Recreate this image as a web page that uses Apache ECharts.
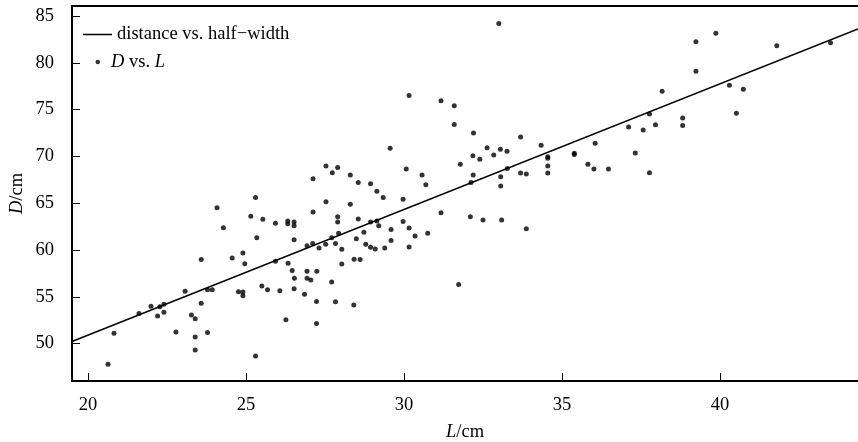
<!DOCTYPE html>
<html>
<head>
<meta charset="utf-8">
<script src="https://cdn.jsdelivr.net/npm/echarts@6/dist/echarts.min.js"></script>
<style>
  html, body { margin: 0; padding: 0; background: #fff; }
  #chart { width: 858px; height: 442px; }
</style>
</head>
<body>
<div id="chart"></div>
<script>
// L (cm) and D (cm)
var lengthL = [
  20.63, 20.82, 21.61, 21.99, 22.2, 22.27, 22.4, 22.4, 22.78, 23.07,
  23.27, 23.39, 23.39, 23.39, 23.58, 23.58, 23.78, 23.78, 23.93, 24.28,
  24.56, 24.76, 24.9, 24.9, 24.9, 24.96, 25.3, 25.34, 25.5, 25.68,
  25.53, 25.93, 25.93, 26.07, 26.26, 26.32, 26.32, 26.33, 26.46, 26.52,
  26.52, 26.52, 26.53, 26.52, 26.85, 26.93, 26.93, 26.93, 27.05, 27.11,
  27.23, 27.23, 27.24, 27.31, 24.08, 25.3, 25.15, 27.53, 27.9, 27.73,
  27.12, 28.3, 28.55, 28.94, 29.14, 29.34, 27.53, 28.3, 27.12, 27.9,
  27.9, 28.55, 28.94, 29.14, 29.2, 29.59, 29.59, 28.73, 27.93, 27.71,
  28.49, 27.52, 27.83, 28.03, 28.79, 28.94, 29.09, 29.39, 28.03, 28.42,
  28.61, 27.71, 27.83, 28.41, 33.0, 30.16, 31.17, 31.59, 31.59, 32.2,
  33.69, 34.34, 32.63, 33.05, 32.18, 32.4, 32.84, 33.26, 31.78, 30.07,
  30.57, 30.69, 32.19, 32.12, 33.06, 33.06, 33.27, 33.69, 33.87, 34.55,
  34.55, 34.55, 34.55, 29.97, 31.17, 29.97, 30.16, 30.35, 30.75, 30.16,
  32.1, 32.5, 33.09, 33.87, 31.73, 29.56, 39.87, 39.24, 41.8, 43.5,
  39.24, 38.17, 40.3, 40.74, 40.52, 37.77, 38.82, 38.82, 37.96, 37.11,
  37.57, 36.05, 35.39, 35.39, 37.32, 35.82, 36.01, 36.47, 37.77
];
var distD = [
  47.8, 51.1, 53.2, 54.0, 52.95, 53.94, 54.2, 53.35, 51.24, 55.6,
  53.05, 52.66, 50.7, 49.3, 58.97, 54.3, 51.17, 55.76, 55.76, 62.38,
  59.15, 55.55, 59.68, 55.5, 55.1, 58.54, 48.68, 61.3, 56.15, 55.76,
  63.28, 58.8, 62.85, 55.65, 52.55, 63.1, 62.8, 58.58, 57.8, 63.0,
  62.6, 61.1, 56.97, 55.87, 55.27, 60.45, 57.72, 56.97, 56.8, 60.7,
  54.5, 52.15, 57.72, 60.2, 64.5, 65.6, 63.6, 68.97, 68.8, 68.26,
  67.6, 68.0, 67.2, 67.08, 66.27, 65.6, 65.16, 64.88, 64.06, 63.56,
  63.0, 63.3, 63.0, 63.1, 62.6, 62.2, 61.0, 61.9, 61.8, 61.3,
  61.2, 60.6, 60.7, 60.07, 60.6, 60.3, 60.1, 60.2, 58.5, 59.0,
  58.97, 56.58, 54.48, 54.12, 84.2, 76.5, 75.95, 75.4, 73.4, 72.5,
  72.07, 71.2, 70.93, 70.75, 70.07, 69.7, 70.15, 70.54, 69.16, 68.65,
  68.0, 66.98, 68.0, 67.2, 67.83, 66.84, 68.7, 68.23, 68.12, 69.96,
  69.8, 68.97, 68.23, 65.42, 63.98, 63.05, 62.35, 61.5, 61.78, 60.32,
  63.56, 63.2, 63.2, 62.27, 56.3, 70.86, 83.15, 82.25, 81.83, 82.15,
  79.1, 76.95, 77.6, 77.17, 74.6, 74.53, 74.1, 73.3, 73.39, 73.14,
  72.82, 71.4, 70.33, 70.2, 70.36, 69.15, 68.65, 68.65, 68.26
];
// fitted line end points
var fitL = [19.49, 44.37];
var fitD = [50.22, 83.62];

var font = 'Liberation Serif';
var fs = 18.5;
var lineName = 'distance vs. half\u2212width';
var dotName = 'D vs. L';

var scatterData = [];
for (var i = 0; i < lengthL.length; i++) {
  scatterData.push([lengthL[i], distD[i]]);
}
var lineData = [];
for (var j = 0; j < fitL.length; j++) {
  lineData.push([fitL[j], fitD[j]]);
}

var chart = echarts.init(document.getElementById('chart'));
var italicRich = {
  i: { fontFamily: font, fontSize: fs, fontStyle: 'italic', color: '#000' },
  n: { fontFamily: font, fontSize: fs, color: '#000' },
  s: { width: 6 }
};

var option = {
  animation: false,
  backgroundColor: '#fff',
  grid: { left: 72, right: 0, top: 6, bottom: 61, outerBoundsMode: 'none' },
  legend: [
    {
      data: [{ name: lineName, icon: 'rect' }],
      left: 78, top: 20,
      itemWidth: 29, itemHeight: 1.5,
      textStyle: { fontFamily: font, fontSize: fs, color: '#000' }
    },
    {
      data: [{ name: dotName, icon: 'circle' }],
      left: 90.5, top: 47.5,
      itemWidth: 4.5, itemHeight: 4.5,
      formatter: function () { return '{s|}{i|D}{n| vs. }{i|L}'; },
      textStyle: { fontFamily: font, fontSize: fs, color: '#000', rich: italicRich }
    }
  ],
  xAxis: [
    {
      type: 'value',
      min: 19.49, max: 44.37,
      splitNumber: 5,
      name: '{i|L}{n|/cm}',
      nameLocation: 'middle',
      nameGap: 41.5,
      nameMoveOverlap: false,
      nameTextStyle: { rich: italicRich },
      axisLine: { lineStyle: { color: '#000', width: 2 } },
      axisTick: { inside: true, length: 8, lineStyle: { color: '#000', width: 1 } },
      axisLabel: { fontFamily: font, fontSize: fs, color: '#000', margin: 15,
        showMinLabel: false, showMaxLabel: false },
      splitLine: { show: false }
    },
    {
      type: 'value',
      position: 'top',
      min: 19.49, max: 44.37,
      axisLine: { show: true, lineStyle: { color: '#000', width: 2 } },
      axisTick: { show: false },
      axisLabel: { show: false },
      splitLine: { show: false }
    }
  ],
  yAxis: {
    type: 'value',
    min: 46, max: 86.07,
    splitNumber: 8,
    name: '{i|D}{n|/cm}',
    nameLocation: 'middle',
    nameGap: 45,
    nameMoveOverlap: false,
    nameTextStyle: { rich: italicRich },
    axisLine: { lineStyle: { color: '#000', width: 2 } },
    axisTick: { inside: true, length: 8, lineStyle: { color: '#000', width: 1 } },
    axisLabel: { fontFamily: font, fontSize: fs, color: '#000', margin: 18,
      showMinLabel: false, showMaxLabel: false },
    splitLine: { show: false }
  },
  series: [
    {
      name: lineName,
      type: 'line',
      data: lineData,
      symbol: 'none',
      lineStyle: { color: '#000', width: 1.5 },
      itemStyle: { color: '#000' }
    },
    {
      name: dotName,
      type: 'scatter',
      data: scatterData,
      symbol: 'circle',
      symbolSize: 5,
      itemStyle: { color: '#000' }
    }
  ]
};
chart.setOption(option);
</script>
</body>
</html>
